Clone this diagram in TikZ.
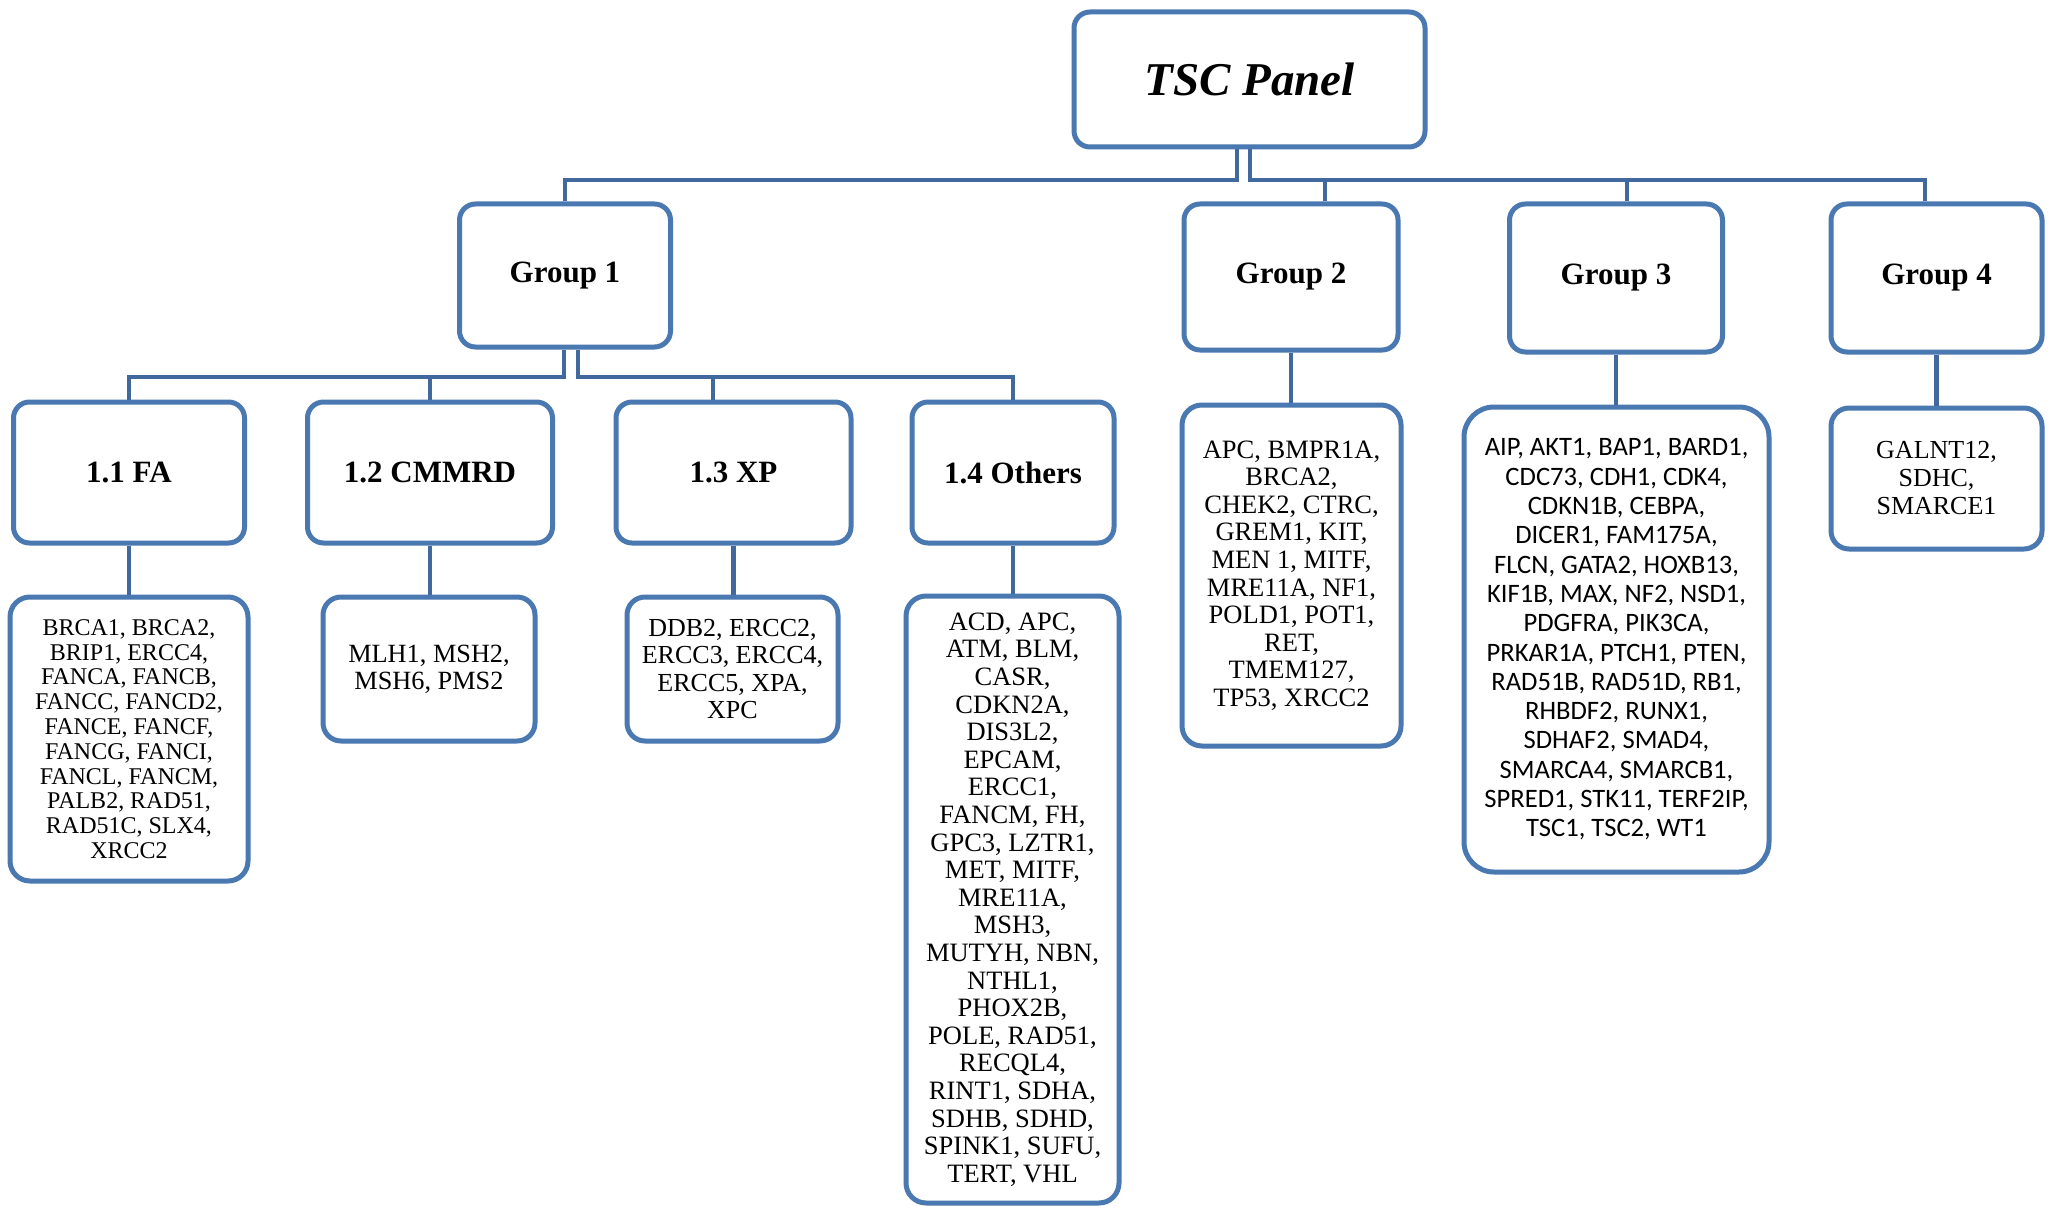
\documentclass[tikz,border=0pt]{standalone}
\usepackage{fontspec}
\setmainfont{Liberation Serif}
\newfontfamily\calibrilike{Carlito}
\definecolor{boxblue}{HTML}{4A78B0}
\definecolor{lineblue}{HTML}{41699E}
\begin{document}
\begin{tikzpicture}[x=1pt,y=-1pt,
  box/.style={draw=boxblue,line width=5pt,rounded corners=16pt,fill=white,align=center,inner sep=0pt},
  title/.style={box,font={\fontsize{31}{34}\selectfont\bfseries}},
  conn/.style={draw=lineblue,line width=4.5pt}]
\useasboundingbox (0,0) rectangle (2051,1206);
% top
\node[box,minimum width=351pt,minimum height=135pt,font={\fontsize{47}{50}\selectfont\bfseries\itshape}] (tsc) at (1249.5,79.5) {TSC Panel};
% groups
\node[title,minimum width=211pt,minimum height=143pt] (g1) at (565,275.5) {Group 1};
\node[title,minimum width=214pt,minimum height=146pt] (g2) at (1291,277) {Group 2};
\node[title,minimum width=213pt,minimum height=148pt] (g3) at (1616,278) {Group 3};
\node[title,minimum width=211pt,minimum height=148pt] (g4) at (1936.5,278) {Group 4};
% level 2
\node[title,minimum width=231pt,minimum height=141pt] (fa) at (129,472.5) {1.1 FA};
\node[title,minimum width=245pt,minimum height=141pt] (cm) at (430,472.5) {1.2 CMMRD};
\node[title,minimum width=235pt,minimum height=141pt] (xp) at (733.5,472.5) {1.3 XP};
\node[title,minimum width=202pt,minimum height=141pt] (ot) at (1013,472.5) {1.4 Others};
% lists
\node[box,rounded corners=20pt,minimum width=238pt,minimum height=284pt,font={\fontsize{24}{24.8}\selectfont}] (falist) at (129,739)
 {BRCA1, BRCA2,\\ BRIP1, ERCC4,\\ FANCA, FANCB,\\ FANCC, FANCD2,\\ FANCE, FANCF,\\ FANCG, FANCI,\\ FANCL, FANCM,\\ PALB2, RAD51,\\ RAD51C, SLX4,\\ XRCC2};
\node[box,rounded corners=18pt,minimum width=212pt,minimum height=144pt,font={\fontsize{26.3}{26.7}\selectfont}] (cmlist) at (429,669)
 {MLH1, MSH2,\\ MSH6, PMS2};
\node[box,rounded corners=18pt,minimum width=211pt,minimum height=144pt,font={\fontsize{26}{27.5}\selectfont}] (xplist) at (732.5,669)
 {DDB2, ERCC2,\\ ERCC3, ERCC4,\\ ERCC5, XPA,\\ XPC};
\node[box,rounded corners=20pt,minimum width=213pt,minimum height=607pt,font={\fontsize{26.5}{27.6}\selectfont}] (otlist) at (1012.5,899.5)
 {ACD, APC,\\ ATM, BLM,\\ CASR,\\ CDKN2A,\\ DIS3L2,\\ EPCAM,\\ ERCC1,\\ FANCM, FH,\\ GPC3, LZTR1,\\ MET, MITF,\\ MRE11A,\\ MSH3,\\ MUTYH, NBN,\\ NTHL1,\\ PHOX2B,\\ POLE, RAD51,\\ RECQL4,\\ RINT1, SDHA,\\ SDHB, SDHD,\\ SPINK1, SUFU,\\ TERT, VHL};
\node[box,rounded corners=20pt,minimum width=219pt,minimum height=341pt,font={\fontsize{26.5}{27.6}\selectfont}] (g2list) at (1291.5,575.5)
 {APC, BMPR1A,\\ BRCA2,\\ CHEK2, CTRC,\\ GREM1, KIT,\\ MEN 1, MITF,\\ MRE11A, NF1,\\ POLD1, POT1,\\ RET,\\ TMEM127,\\ TP53, XRCC2};
\node[box,rounded corners=30pt,minimum width=305pt,minimum height=465pt,font={\calibrilike\fontsize{26.6}{29.3}\selectfont}] (g3list) at (1616.5,639.5)
 {AIP, AKT1, BAP1, BARD1,\\ CDC73, CDH1, CDK4,\\ CDKN1B, CEBPA,\\ DICER1, FAM175A,\\ FLCN, GATA2, HOXB13,\\ KIF1B, MAX, NF2, NSD1,\\ PDGFRA, PIK3CA,\\ PRKAR1A, PTCH1, PTEN,\\ RAD51B, RAD51D, RB1,\\ RHBDF2, RUNX1,\\ SDHAF2, SMAD4,\\ SMARCA4, SMARCB1,\\ SPRED1, STK11, TERF2IP,\\ TSC1, TSC2, WT1};
\node[box,rounded corners=18pt,minimum width=211pt,minimum height=141pt,font={\fontsize{26}{28}\selectfont}] (g4list) at (1936.5,478.5)
 {GALNT12,\\ SDHC,\\ SMARCE1};
% connector coordinates
\coordinate (tL) at (1237,180);
\coordinate (tR) at (1250,180);
\coordinate (d2) at (1325,180);
\coordinate (d3) at (1627,180);
\coordinate (d4) at (1925,180);
\coordinate (bL) at (564,377);
\coordinate (bR) at (578,377);
\coordinate (dxp) at (713,377);
% top connectors
\draw[conn] (tsc.south -| tL) -- (tL) -| (g1.north);
\draw[conn] (tsc.south -| tR) -- (tR) -- (d4) -- (d4 |- g4.north);
\draw[conn] (d2) -- (d2 |- g2.north);
\draw[conn] (d3) -- (d3 |- g3.north);
% group 1 connectors
\draw[conn] (g1.south -| bL) -- (bL) -| (fa.north);
\draw[conn] (g1.south -| bR) -- (bR) -| (ot.north);
\draw[conn] (cm.north |- bL) -- (cm.north);
\draw[conn] (dxp) -- (dxp |- xp.north);
% to lists
\draw[conn] (fa.south) -- (falist.north -| fa.south);
\draw[conn] (cm.south) -- (cmlist.north -| cm.south);
\draw[conn] (xp.south) -- (xplist.north -| xp.south);
\draw[conn] (ot.south) -- (otlist.north -| ot.south);
\draw[conn] (g2.south) -- (g2list.north -| g2.south);
\draw[conn] (g3.south) -- (g3list.north -| g3.south);
\draw[conn] (g4.south) -- (g4list.north -| g4.south);
\end{tikzpicture}
\end{document}
